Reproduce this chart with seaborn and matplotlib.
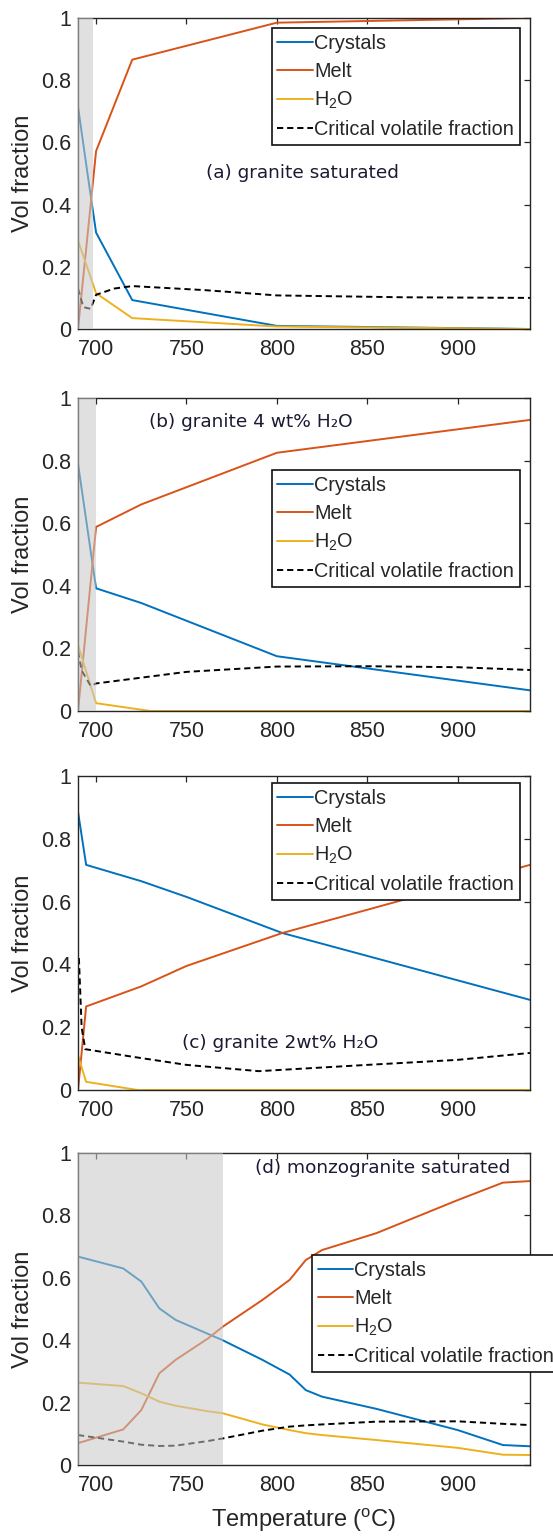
import numpy as np
import pandas as pd
import matplotlib
matplotlib.use("Agg")
import matplotlib.pyplot as plt
import seaborn as sns

# ---------------- data ----------------
# (a) granite saturated
T_a = [690, 695, 700, 720, 800, 940]
crystals_a = [0.715, 0.51, 0.31, 0.093, 0.01, 0.0]
melt_a = [0.0, 0.286, 0.572, 0.866, 0.985, 1.0]
h2o_a = [0.284, 0.20, 0.115, 0.035, 0.008, 0.0]
Tcrit_a = [690, 693, 697, 700, 710, 720, 760, 800, 870, 940]
crit_a = [0.13, 0.07, 0.065, 0.11, 0.13, 0.138, 0.125, 0.108, 0.102, 0.10]
shade_a = (690, 698.5)

# (b) granite 4 wt% H2O
T_b = [690, 700, 725, 800, 940]
crystals_b = [0.79, 0.392, 0.345, 0.175, 0.066]
melt_b = [0.0, 0.588, 0.66, 0.825, 0.93]
Th2o_b = [690, 700, 730, 940]
h2o_b = [0.21, 0.025, 0.0, 0.0]
Tcrit_b = [690, 692, 697, 700, 750, 800, 850, 900, 940]
crit_b = [0.19, 0.13, 0.08, 0.088, 0.125, 0.142, 0.143, 0.14, 0.131]
shade_b = (690, 700)

# (c) granite 2wt% H2O
T_c = [690, 694.5, 725, 750, 803, 850, 940]
crystals_c = [0.886, 0.717, 0.665, 0.615, 0.5, 0.427, 0.287]
melt_c = [0.0, 0.266, 0.33, 0.395, 0.5, 0.574, 0.717]
Th2o_c = [690, 694.5, 723, 940]
h2o_c = [0.11, 0.026, 0.0, 0.0]
Tcrit_c = [690.5, 692, 694, 720, 750, 790, 850, 900, 940]
crit_c = [0.42, 0.2, 0.13, 0.106, 0.08, 0.06, 0.08, 0.096, 0.118]

# (d) monzogranite saturated
T_d = [690, 715, 725, 735, 744, 762, 770, 792, 807, 816, 825, 855, 900, 925, 940]
crystals_d = [0.668, 0.63, 0.588, 0.502, 0.465, 0.42, 0.40, 0.337, 0.29, 0.24, 0.219, 0.18, 0.112, 0.064, 0.06]
melt_d = [0.07, 0.114, 0.176, 0.294, 0.337, 0.406, 0.443, 0.529, 0.593, 0.657, 0.689, 0.743, 0.849, 0.905, 0.91]
h2o_d = [0.264, 0.253, 0.23, 0.203, 0.19, 0.172, 0.166, 0.13, 0.112, 0.102, 0.096, 0.08, 0.055, 0.033, 0.032]
crit_d = [0.096, 0.075, 0.065, 0.061, 0.062, 0.077, 0.085, 0.11, 0.123, 0.127, 0.13, 0.139, 0.14, 0.132, 0.128]
shade_d = (690, 770)

labels = ["Crystals", "Melt", "H$_2$O", "Critical volatile fraction"]
titles = ["(a) granite saturated", "(b) granite 4 wt% H\u2082O",
          "(c) granite 2wt% H\u2082O", "(d) monzogranite saturated"]
xticks = [700, 750, 800, 850, 900]
yticks = [0, 0.2, 0.4, 0.6, 0.8, 1]
yticklabels = ["0", "0.2", "0.4", "0.6", "0.8", "1"]

# ---------------- style ----------------
sns.set_theme(style="white")
plt.rcParams["font.family"] = ["Liberation Sans", "DejaVu Sans"]
plt.rcParams["mathtext.fontset"] = "custom"
plt.rcParams["mathtext.rm"] = "Liberation Sans"
plt.rcParams["mathtext.it"] = "Liberation Sans:italic"
plt.rcParams["mathtext.bf"] = "Liberation Sans:bold"

C_CRY = "#0072BD"
C_MELT = "#D95319"
C_H2O = "#EDB120"
C_CRIT = "#000000"
AX_COL = "#262626"
LW = 1.4

fig = plt.figure(figsize=(5.53, 15.37), dpi=100)
left, width = 78 / 553, 452 / 553
rects = [
    (1 - 329 / 1537, 311 / 1537),
    (1 - 711 / 1537, 313 / 1537),
    (1 - 1090 / 1537, 314 / 1537),
    (1 - 1465 / 1537, 312 / 1537),
]

panels = [
    dict(cry=(T_a, crystals_a), melt=(T_a, melt_a), h2o=(T_a, h2o_a), crit=(Tcrit_a, crit_a),
         shade=shade_a, leg=dict(loc="upper right", bbox=(0.978, 0.969)),
         txt=(760.6, 0.50)),
    dict(cry=(T_b, crystals_b), melt=(T_b, melt_b), h2o=(Th2o_b, h2o_b), crit=(Tcrit_b, crit_b),
         shade=shade_b, leg=dict(loc="upper right", bbox=(0.978, 0.77)),
         txt=(729.2, 0.924)),
    dict(cry=(T_c, crystals_c), melt=(T_c, melt_c), h2o=(Th2o_c, h2o_c), crit=(Tcrit_c, crit_c),
         shade=None, leg=dict(loc="upper right", bbox=(0.978, 0.978)),
         txt=(747.4, 0.15)),
    dict(cry=(T_d, crystals_d), melt=(T_d, melt_d), h2o=(T_d, h2o_d), crit=(T_d, crit_d),
         shade=shade_d, leg=dict(loc="upper left", bbox=(0.517, 0.673)),
         txt=(787.8, 0.952)),
]

for i, (p, (b, h)) in enumerate(zip(panels, rects)):
    ax = fig.add_axes([left, b, width, h])
    sns.lineplot(x=p["cry"][0], y=p["cry"][1], ax=ax, color=C_CRY, lw=LW, label=labels[0])
    sns.lineplot(x=p["melt"][0], y=p["melt"][1], ax=ax, color=C_MELT, lw=LW, label=labels[1])
    sns.lineplot(x=p["h2o"][0], y=p["h2o"][1], ax=ax, color=C_H2O, lw=LW, label=labels[2])
    sns.lineplot(x=p["crit"][0], y=p["crit"][1], ax=ax, color=C_CRIT, lw=LW,
                 linestyle=(0, (3.2, 2.0)), label=labels[3])
    if p["shade"] is not None:
        ax.axvspan(p["shade"][0], p["shade"][1], color="#c8c8c8", alpha=0.55, lw=0, zorder=3)
    ax.set_xlim(690, 940)
    ax.set_ylim(0, 1)
    ax.set_xticks(xticks)
    ax.set_xticklabels([str(t) for t in xticks])
    ax.set_yticks(yticks)
    ax.set_yticklabels(yticklabels)
    ax.tick_params(direction="in", length=4, width=0.9, colors=AX_COL,
                   top=True, right=True, labelsize=15.5, pad=5)
    ax.tick_params(axis="x", pad=7)
    for s in ax.spines.values():
        s.set_color(AX_COL)
        s.set_linewidth(1.0)
        s.set_visible(True)
    ax.set_ylabel("Vol fraction", fontsize=17, color=AX_COL, labelpad=5)
    ax.set_xlabel("")
    leg = ax.legend(loc=p["leg"]["loc"], bbox_to_anchor=p["leg"]["bbox"],
                    fontsize=14.3, frameon=True, fancybox=False, framealpha=1,
                    edgecolor="#111111", borderpad=0.3, handlelength=1.8,
                    handletextpad=0.05, labelspacing=0.45, borderaxespad=0)
    leg.get_frame().set_linewidth(1.2)
    leg.set_zorder(6)
    ax.text(p["txt"][0], p["txt"][1], titles[i], fontsize=13.3, ha="left", va="center",
            color="#1a1a33", family=["DejaVu Sans"], zorder=5)
    if i == 3:
        ax.set_xlabel(r"Temperature ($^{\mathrm{o}}$C)", fontsize=17, color=AX_COL, labelpad=8)

fig.savefig("out.png", dpi=100)
